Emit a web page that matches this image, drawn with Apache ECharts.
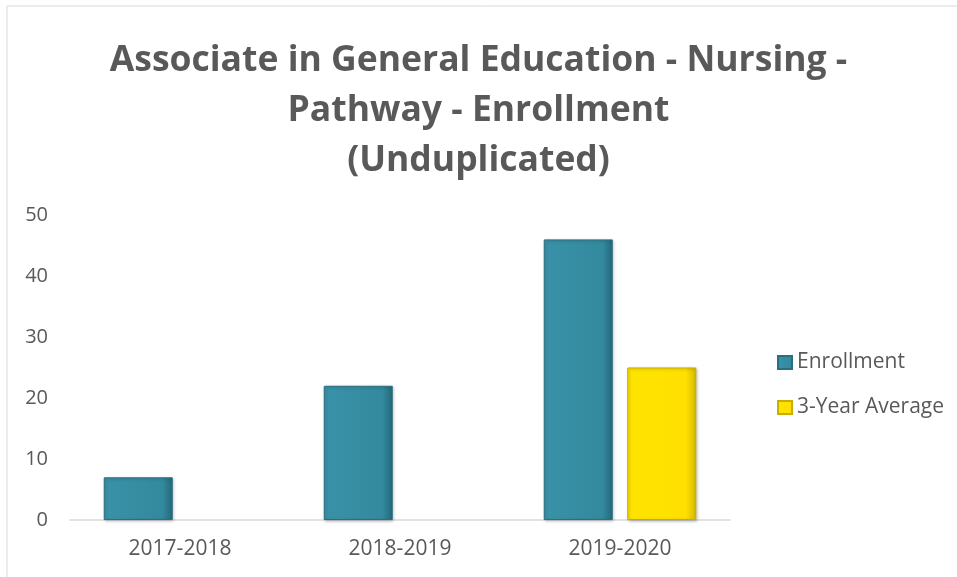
<!DOCTYPE html>
<html><head><meta charset="utf-8">
<script src="https://cdn.jsdelivr.net/npm/echarts@6/dist/echarts.min.js"></script>
<style>html,body{margin:0;padding:0;background:#fff}#c{width:957px;height:577px}</style>
</head><body><div id="c"></div>
<script>
const categories = ['2017-2018', '2018-2019', '2019-2020'];
const enrollment = [7, 22, 46];
const threeYearAverage = [null, null, 25];
const yTicks = [0, 10, 20, 30, 40, 50];

const chart = echarts.init(document.getElementById('c'));
const FONT = '"Open Sans", sans-serif';
const TXT = '#595959';
const blue = {type:'linear',x:0,y:0,x2:1,y2:0,colorStops:[{offset:0,color:'#3a92a8'},{offset:0.85,color:'#338a9f'},{offset:1,color:'#24687a'}]};
const yellow = {type:'linear',x:0,y:0,x2:1,y2:0,colorStops:[{offset:0,color:'#ffe400'},{offset:0.85,color:'#ffe000'},{offset:1,color:'#d6b800'}]};
chart.setOption({
  animation:false,
  backgroundColor:'#fff',
  graphic:[{type:'rect',shape:{x:7,y:6,width:1000,height:1000},style:{fill:'none',stroke:'#d9d9d9',lineWidth:1},silent:true}],
  title:{text:'Associate in General Education - Nursing -\nPathway - Enrollment\n(Unduplicated)',left:'center',top:31,
    textStyle:{fontFamily:FONT,fontWeight:'bold',fontSize:35.5,color:TXT,lineHeight:50}},
  legend:{orient:'vertical',left:772,top:347,itemWidth:14,itemHeight:13,itemGap:24,icon:'rect',
    textStyle:{fontFamily:FONT,fontSize:21,color:TXT}},
  grid:{left:70,right:227,top:215,bottom:57,containLabel:false},
  xAxis:{type:'category',data:categories,axisTick:{show:false},
    axisLine:{lineStyle:{color:'#d9d9d9',width:1.5}},
    axisLabel:{fontFamily:FONT,fontSize:21,color:TXT,margin:19}},
  yAxis:{type:'value',min:yTicks[0],max:yTicks[yTicks.length-1],interval:10,
    splitLine:{show:false},axisLine:{show:false},axisTick:{show:false},
    axisLabel:{fontFamily:FONT,fontSize:20,color:TXT,margin:22}},
  series:[
    {name:'Enrollment',type:'bar',data:enrollment,barWidth:69,barGap:'21%',
      itemStyle:{color:blue,borderColor:'#2a6f80',borderWidth:1,shadowColor:'rgba(0,0,0,0.25)',shadowBlur:3,shadowOffsetX:1,shadowOffsetY:1}},
    {name:'3-Year Average',type:'bar',data:threeYearAverage,barWidth:69,
      itemStyle:{color:yellow,borderColor:'#c9ad00',borderWidth:1,shadowColor:'rgba(0,0,0,0.25)',shadowBlur:3,shadowOffsetX:1,shadowOffsetY:1}}
  ]
});
</script></body></html>
